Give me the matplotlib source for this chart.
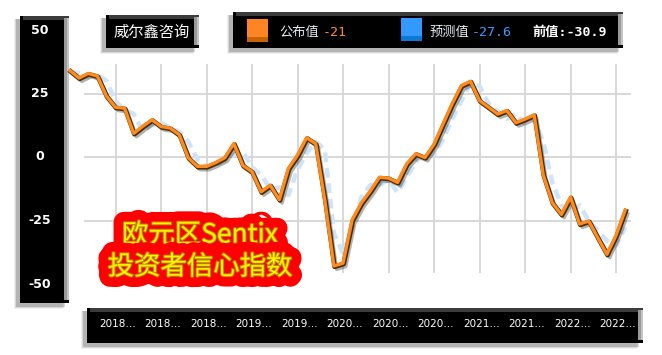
import matplotlib
matplotlib.use("Agg")
import matplotlib.pyplot as plt
import matplotlib.patheffects as pe
from matplotlib.patches import Rectangle

# Sentix euro-area investor confidence, monthly Nov 2017 .. Dec 2022
actual = [34.0, 31.1,
          32.9, 31.9, 24.0, 19.6, 19.2, 9.3, 12.1, 14.7, 12.0, 11.4, 8.8, -0.3,
          -3.7, -3.7, -2.2, -0.3, 5.3, -3.3, -5.8, -13.7, -11.1, -16.8, -4.5, 0.7,
          7.6, 5.2, -17.1, -42.9, -41.8, -24.8, -18.2, -13.4, -8.0, -8.3, -10.0, -2.7,
          1.3, -0.2, 5.0, 13.1, 21.0, 28.1, 29.8, 22.2, 19.6, 16.9, 18.3, 13.5,
          14.9, 16.6, -7.0, -18.0, -22.6, -15.8, -26.4, -25.2, -31.8, -38.3, -30.9, -21.0]
forecast = [33.5, 33.0,
            31.5, 32.5, 30.0, 22.0, 18.5, 17.0, 10.0, 12.5, 13.5, 11.5, 10.0, 6.0,
            -1.0, -4.0, -3.0, -1.5, 1.0, 2.0, -4.0, -7.0, -12.5, -12.0, -15.0, -5.0,
            1.5, 6.0, 3.0, -30.0, -38.0, -28.0, -16.0, -11.0, -11.0, -9.0, -14.0, -8.0,
            -2.0, 2.0, 1.0, 7.0, 15.0, 22.0, 29.0, 28.0, 21.0, 18.0, 15.0, 17.0,
            13.0, 15.0, 6.0, -10.0, -19.0, -22.0, -19.0, -25.0, -29.0, -33.0, -35.0, -27.6]
tick_idx = [5, 10, 15, 20, 25, 30, 35, 40, 45, 50, 55, 60]
tick_text = ["2018…", "2018…", "2018…", "2019…", "2019…", "2020…",
             "2020…", "2020…", "2021…", "2021…", "2022…", "2022…"]
ytick_vals = [50, 25, 0, -25, -50]
grid_y = [25, 0, -25]

W, H = 662, 355
fig = plt.figure(figsize=(W / 100, H / 100), dpi=100)
fig.patch.set_facecolor("white")

# background layer in pixel coordinates
bg = fig.add_axes([0, 0, 1, 1], zorder=0)
bg.set_xlim(0, W)
bg.set_ylim(H, 0)
bg.axis("off")


def panel(x0, y0, x1, y1):
    # soft shadow to lower-left
    for k, a in [(6, 0.06), (4, 0.10), (2, 0.16)]:
        bg.add_patch(Rectangle((x0 - 3 - k / 2, y0 + 3), x1 - x0, y1 - y0 + k / 2,
                               fc="black", ec="none", alpha=a))
    bg.add_patch(Rectangle((x0, y0), x1 - x0, y1 - y0, fc="black", ec="none"))
    bg.add_patch(Rectangle((x0 + 3, y0), x1 - x0 - 3, 4, fc="#3c3c3c", ec="none"))
    bg.add_patch(Rectangle((x1 - 5, y0 + 2), 5, y1 - y0 - 5, fc="#9a9a9a", ec="none"))
    bg.add_patch(Rectangle((x1 - 2, y0 + 2), 2, y1 - y0 - 5, fc="#c4c4c4", ec="none"))


panel(20, 16, 69, 303)     # y axis
panel(87, 308, 643, 343)   # x axis
panel(106, 15, 199, 48)    # brand
panel(233, 12, 623, 48)    # legend

cjk = ["Noto Sans CJK SC", "DejaVu Sans"]
mono = ["DejaVu Sans Mono", "Noto Sans CJK SC"]

bg.text(152, 32, "威尔鑫咨询", color="white", fontsize=11, family=cjk,
        ha="center", va="center")

# legend swatches
bg.add_patch(Rectangle((247, 19), 21, 23, fc="#FF8424", ec="none"))
bg.add_patch(Rectangle((247, 37), 21, 5, fc="#C86406", ec="none"))
bg.add_patch(Rectangle((401, 18), 21, 23, fc="#3399FF", ec="none"))
bg.add_patch(Rectangle((401, 36), 21, 5, fc="#0A7AD8", ec="none"))
bg.text(279, 32, "公布值", color="#E6ECF2", fontsize=9.5, family=cjk, va="center")
bg.text(323, 32, "-21", color="#FF8C2A", fontsize=9.5, family=mono, va="center")
bg.text(429, 32, "预测值", color="#E6ECF2", fontsize=9.5, family=cjk, va="center")
bg.text(472, 32, "-27.6", color="#3D9BFF", fontsize=9.5, family=mono, va="center")
bg.text(532, 32, "前值:-30.9", color="white", fontsize=9.5, family=mono,
        fontweight="bold", va="center")

# main plot area
ax = fig.add_axes([68 / W, 1 - 280 / H, 572 / W, 220 / H], zorder=1)
ax.patch.set_alpha(0)
ax.axis("off")
x0_px, dx_px = 70, 9.1
ax.set_xlim((68 - x0_px) / dx_px, (640 - x0_px) / dx_px)
ax.set_ylim((157 - 280) / 2.54, (157 - 60) / 2.54)

gc = "#d6d6d6"
ax.vlines(tick_idx, (157 - 273) / 2.54, (157 - 64) / 2.54, color=gc, lw=1.3, zorder=1)
ax.hlines(grid_y, 1.5, 61.7, color=gc, lw=1.3, zorder=1)

xs = list(range(len(actual)))
ax.plot(xs, forecast, color="#CFE4F8", lw=3.2, ls=(0, (2.2, 1.3)),
        solid_capstyle="round", zorder=2, clip_on=False)
ax.plot(xs, actual, color="#FF8A1E", lw=2.4, zorder=3, clip_on=False,
        solid_joinstyle="round",
        path_effects=[pe.SimpleLineShadow(offset=(2, -2.5), shadow_color="black", alpha=0.3),
                      pe.Stroke(offset=(0.5, -0.6), linewidth=3.4, foreground="#4a2c00"),
                      pe.Normal()])

# y labels in the black panel
ytr = ax.get_yaxis_transform()
for v in ytick_vals:
    ax.text(-0.049, v, str(v), transform=ytr, color="white",
            fontsize=9, fontweight="bold", ha="center", va="center", clip_on=False)

# x labels in the bottom panel
xtr = ax.get_xaxis_transform()
for i, t in zip(tick_idx, tick_text):
    ax.text(i + 0.2, -0.2, t, transform=xtr, color="white", fontsize=7.5,
            ha="center", va="center", clip_on=False)

# red glowing title
title_fx = [pe.withStroke(linewidth=15, foreground="#FF0000"),
            pe.withStroke(linewidth=1.4, foreground="#B58A00")]
for txt, yy in [("欧元区Sentix", 235), ("投资者信心指数", 267)]:
    ax.text(200, yy, txt, transform=bg.transData, color="#FFF200", fontsize=19,
            family=cjk, fontweight="medium", ha="center", va="center", zorder=10,
            path_effects=title_fx)

fig.savefig("out.png", dpi=100)
